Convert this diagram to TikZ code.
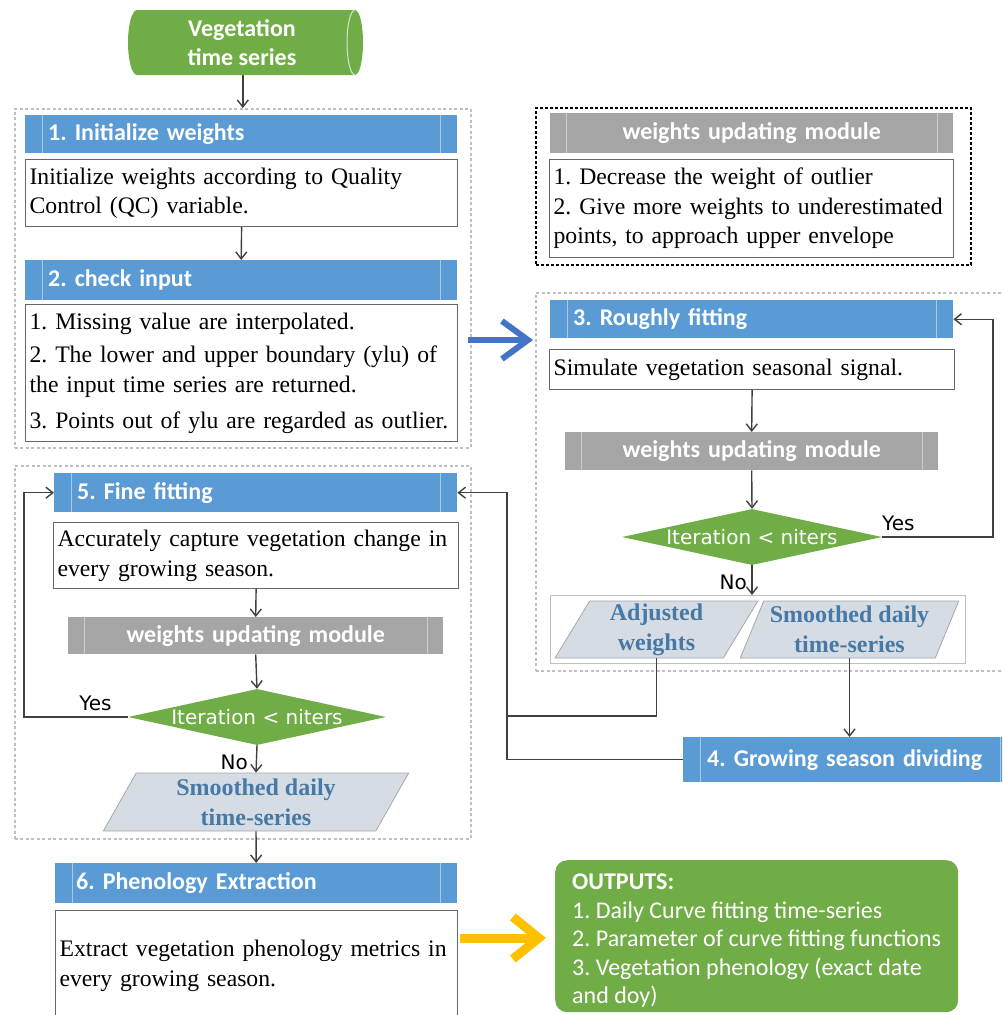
\documentclass[tikz,border=0pt]{standalone}
\usepackage{fontspec}
\newfontfamily\carlito{Carlito}
\newfontfamily\lserif{Liberation Serif}
\newfontfamily\dvs{DejaVu Sans}
\usetikzlibrary{arrows.meta,shapes.geometric}
\definecolor{hblue}{HTML}{5B9BD5}
\definecolor{hbline}{HTML}{A9C9EA}
\definecolor{hgray}{HTML}{A5A5A5}
\definecolor{hgline}{HTML}{CDCDCD}
\definecolor{vgreen}{HTML}{70AD47}
\definecolor{pfill}{HTML}{D6DCE4}
\definecolor{ptext}{HTML}{4679A6}
\definecolor{grpgray}{HTML}{BFBFBF}
\definecolor{barrow}{HTML}{4472C4}
\definecolor{yarrowc}{HTML}{FFC000}
\definecolor{cline}{HTML}{404040}
\frenchspacing
\hyphenpenalty=10000
\begin{document}
\begin{tikzpicture}[x=1pt,y=-1pt,
  bhdr/.style={anchor=north west, fill=hblue, text=white,
    font=\carlito\bfseries\fontsize{24}{28}\selectfont\frenchspacing, align=left,
    inner xsep=23pt, inner ysep=0pt,
    path picture={\draw[hbline, line width=1.2pt]
      ([xshift=17pt]path picture bounding box.north west) -- ([xshift=17pt]path picture bounding box.south west)
      ([xshift=-17pt]path picture bounding box.north east) -- ([xshift=-17pt]path picture bounding box.south east);}},
  ghdr/.style={anchor=north west, fill=hgray, text=white,
    font=\carlito\bfseries\fontsize{24}{28}\selectfont, align=center,
    inner xsep=20pt, inner ysep=0pt,
    path picture={\draw[hgline, line width=1.2pt]
      ([xshift=16pt]path picture bounding box.north west) -- ([xshift=16pt]path picture bounding box.south west)
      ([xshift=-16pt]path picture bounding box.north east) -- ([xshift=-16pt]path picture bounding box.south east);}},
  tbox/.style={anchor=north west, draw=black!60, line width=1.2pt, fill=white,
    font=\lserif\fontsize{23.7}{29.5}\selectfont\frenchspacing, align=left, inner xsep=4pt, inner ysep=0pt},
  grp/.style={anchor=north west, draw=grpgray, line width=1.6pt, dash pattern=on 3pt off 2.5pt},
  modbox/.style={anchor=north west, draw=black, line width=2.4pt, dash pattern=on 3pt off 2pt},
  dec/.style={diamond, aspect=4.6, fill=vgreen, inner sep=0pt, text=white,
    font=\dvs\fontsize{20}{24}\selectfont},
  para/.style={trapezium, trapezium left angle=65, trapezium right angle=115,
    trapezium stretches=true, fill=pfill, draw=black!35, line width=0.8pt, inner sep=0pt,
    text=ptext, align=center, font=\lserif\bfseries\fontsize{24}{30}\selectfont},
  lbl/.style={font=\dvs\fontsize{20}{24}\selectfont, inner sep=0pt},
  conn/.style={draw=cline, line width=1.4pt, -{Straight Barb[length=7pt,width=11pt]}},
  plain/.style={draw=cline, line width=1.4pt},
]
\useasboundingbox (0,0) rectangle (1002,1015);
\clip (0,0) rectangle (1002,1015);

% start cylinder (horizontal)
\fill[vgreen] (137,10) -- (355,10) arc[start angle=-90, end angle=90, x radius=8, y radius=32.5]
  -- (137,75) arc[start angle=90, end angle=270, x radius=9, y radius=32.5] -- cycle;
\draw[white!70!vgreen, line width=1pt] (355,10) arc[start angle=-90, end angle=-270, x radius=8, y radius=32.5];
\node[inner sep=0pt, text=white, align=center, minimum width=235pt, minimum height=65pt,
  font=\carlito\bfseries\fontsize{24}{29}\selectfont] (cyl) at (242,42.5) {Vegetation\\time series};

% group 1
\node[grp, minimum width=456pt, minimum height=339pt] (g1) at (14,108) {};
\node[bhdr, minimum width=432pt, text width=386pt, minimum height=38pt] (h1) at (25,115) {1. Initialize weights};
\node[tbox, minimum width=432pt, text width=424pt, minimum height=67pt] (b1) at (25,159)
  {Initialize weights according to Quality\\Control (QC) variable.};
\node[bhdr, minimum width=432pt, text width=386pt, minimum height=40pt] (h2) at (25,260) {2. check input};
\node[tbox, minimum width=432pt, text width=424pt, minimum height=137pt] (b2) at (25,304)
  {1. Missing value are interpolated.\\[4pt]2. The lower and upper boundary (ylu) of\\the input time series are returned.\\[7pt]3. Points out of ylu are regarded as outlier.};

% module description
\node[modbox, minimum width=435pt, minimum height=157pt] (wm) at (535,107) {};
\node[ghdr, minimum width=403pt, text width=363pt, minimum height=40pt] (wmh) at (550,113) {weights updating module};
\node[tbox, minimum width=404pt, text width=396pt, minimum height=98pt] (wmb) at (549,159)
  {1. Decrease the weight of outlier\\2. Give more weights to underestimated\\points, to approach upper envelope};

% group 3
\node[grp, minimum width=470pt, minimum height=378pt] (g3) at (535,292) {};
\node[bhdr, minimum width=403pt, text width=357pt, minimum height=38pt] (h3) at (550,300) {3. Roughly fitting};
\node[tbox, minimum width=405pt, text width=397pt, minimum height=40pt] (b3) at (549,349)
  {Simulate vegetation seasonal signal.};
\node[ghdr, minimum width=373pt, text width=333pt, minimum height=38pt] (gh1) at (565,432) {weights updating module};
\node[dec, minimum width=260pt, minimum height=56pt] (d1) at (752,537) {Iteration < niters};
\node[anchor=north west, draw=grpgray, line width=1.4pt, fill=white,
  minimum width=415pt, minimum height=68pt] (cont) at (550,595) {};
\node[para, minimum width=203pt, minimum height=57pt] (p1) at (656.5,629.5) {Adjusted\\weights};
\node[para, minimum width=219pt, minimum height=57pt] (p2) at (849.5,629.5) {Smoothed daily\\time-series};
\node[lbl, anchor=west] (yes1) at (882,523) {Yes};
\node[lbl, anchor=east] (no1) at (747,582) {No};

% step 4
\node[bhdr, minimum width=334pt, text width=286pt, minimum height=45pt, inner xsep=24pt] (h4) at (683,737) {4. Growing season dividing};

% group 5
\node[grp, minimum width=456pt, minimum height=373pt] (g5) at (14,465) {};
\node[bhdr, minimum width=403pt, text width=357pt, minimum height=39pt] (h5) at (54,473) {5. Fine fitting};
\node[tbox, minimum width=405pt, text width=397pt, minimum height=66pt] (b5) at (53,522)
  {Accurately capture vegetation change in\\every growing season.};
\node[ghdr, minimum width=375pt, text width=335pt, minimum height=37pt] (gh2) at (68,617) {weights updating module};
\node[dec, minimum width=258pt, minimum height=56pt] (d2) at (257,717) {Iteration < niters};
\node[para, minimum width=306pt, minimum height=58pt] (s2) at (256,802) {Smoothed daily\\time-series};
\node[lbl] (yes2) at (95.5,703) {Yes};
\node[lbl, anchor=east] (no2) at (248,762) {No};

% step 6
\node[bhdr, minimum width=402pt, text width=360pt, minimum height=40pt, inner xsep=21pt] (h6) at (55,863) {6. Phenology Extraction};
\node[tbox, minimum width=402pt, text width=394pt, minimum height=110pt] (b6) at (55,910)
  {Extract vegetation phenology metrics in\\every growing season.};

% outputs
\node[anchor=north west, fill=vgreen, rounded corners=12pt,
  minimum width=403pt, minimum height=152pt] (out) at (555,860) {};
\node[anchor=west, inner sep=0pt, text=white, align=left,
  font=\carlito\fontsize{24}{28.5}\selectfont\frenchspacing] (outt) at (572,941)
  {{\bfseries OUTPUTS:}\\1. Daily Curve fitting time-series\\2. Parameter of curve fitting functions\\3. Vegetation phenology (exact date\\and doy)};

% helper coordinates
\coordinate (rx) at (993,0);
\coordinate (lx) at (24,0);
\coordinate (jn) at (507,716);
\coordinate (ba1) at (468,340);
\coordinate (ba2) at (533,340);
\coordinate (ya1) at (460,938);
\coordinate (ya2) at (546,938);

% connectors
\draw[conn] (g1.north |- cyl.south) -- (g1.north);
\draw[conn] (b1.south) -- (h2.north);
\draw[draw=barrow, line width=6pt, -{Straight Barb[length=26pt,width=38pt]}] (ba1) -- (ba2);
\draw[conn] (b3.south) -- (gh1.north);
\draw[conn] (gh1.south) -- (d1.north);
\draw[conn] (d1.east) -- (d1.east -| rx) |- (h3.east);
\draw[conn] (d1.south) -- (d1.south |- cont.north);
\draw[plain] (p1.south) |- (jn);
\draw[conn] (p2.south) -- (p2.south |- h4.north);
\draw[conn] (h4.west) -- (h4.west -| jn) |- (h5.east);
\draw[conn] (b5.south) -- (gh2.north);
\draw[conn] (gh2.south) -- (d2.north);
\draw[conn] (d2.west) -- (d2.west -| lx) |- (h5.west);
\draw[conn] (d2.south) -- (s2.north);
\draw[conn] (s2.south) -- (h6.north);
\draw[draw=yarrowc, line width=9pt, -{Straight Barb[length=26pt,width=42pt]}] (ya1) -- (ya2);
\end{tikzpicture}
\end{document}
